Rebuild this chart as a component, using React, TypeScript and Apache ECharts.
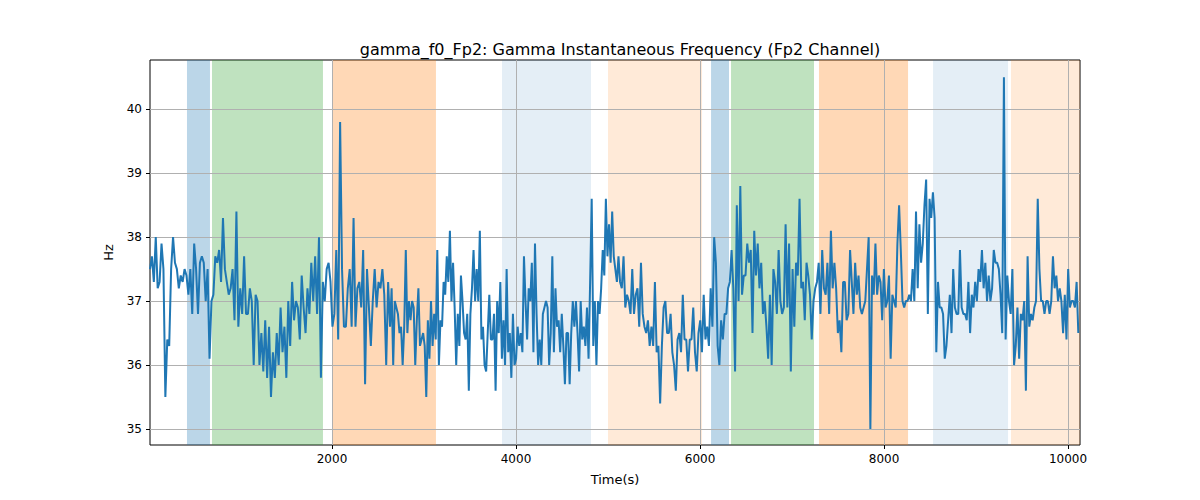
import React, { useEffect, useRef } from "react";
import * as echarts from "echarts";

// segment boundaries (time) and the values read within each segment
const segBounds = [22, 2631, 5131, 7631, 10130];
const seg1: number[] = [37.5,37.7,37.3,38.0,37.2,37.3,37.9,37.5,35.5,36.4,36.3,37.5,38.0,37.6,37.5,37.2,37.4,37.3,37.5,37.4,37.1,37.5,36.8,37.9,37.5,36.8,37.6,37.7,37.6,37.0,37.5,36.1,37.0,37.1,37.7,37.6,37.8,37.3,38.3,37.5,37.3,37.1,37.2,37.5,36.7,38.4,36.6,37.2,36.8,37.7,36.8,36.8,37.2,37.0,36.0,37.1,37.0,36.0,36.5,35.9,36.7,35.8,36.6,35.5,36.2,35.8,36.5,36.0,36.9,36.2,36.6,35.8,37.0,36.3,37.3,36.7,37.0,36.9,36.4,37.4,36.9,36.5,37.2,36.8,37.6,37.0,37.7,36.8,38.0,35.8,37.3,37.0,37.5,37.6,37.3,36.6,36.8,37.8,36.4,39.8,37.5,36.6,36.6,37.2,37.5,36.6,38.3,36.6,37.2,37.3,36.9,37.8,35.7,37.5,36.9,36.3,37.0,37.5,36.9,37.3,37.2,37.5,37.1,36.0,37.3];
const seg2: number[] = [36.6,37.2,36.0,37.0,36.9,36.8,36.5,36.6,36.0,36.6,37.8,36.5,37.0,36.7,37.0,36.9,36.0,36.7,37.2,36.3,36.4,36.5,36.3,35.5,36.7,36.1,37.0,36.3,36.8,36.4,37.8,36.0,36.7,36.6,37.3,37.1,37.7,37.3,38.1,37.0,37.6,36.9,36.0,36.8,36.3,37.4,37.0,36.5,36.4,36.8,35.6,36.8,37.2,37.8,37.0,37.5,37.0,38.1,36.4,36.6,36.0,35.9,36.5,37.1,36.4,36.4,36.8,35.6,37.0,36.5,37.3,36.1,36.7,36.0,37.5,36.2,36.5,35.8,36.8,36.0,36.1,36.6,36.3,36.5,36.2,37.7,37.0,36.4,37.2,37.0,37.6,36.2,37.9,36.8,36.0,36.4,36.0,36.8,36.9,37.0,36.9,36.0,36.5,37.7,36.2,37.2,36.6,36.7,36.2,36.8,36.3,35.7,36.5,36.5,35.7,36.5,37.0,36.6,37.0,36.5,35.9,37.0,36.4,36.6,36.3,36.9,36.1,37.3,38.6,36.3,37.0,36.0,37.0,36.8,37.2,37.8,37.4,38.6,37.7,38.2,37.6,38.4,37.7,37.5,37.3,37.7];
const seg3: number[] = [37.3,37.2,37.7,36.9,37.1,37.0,36.8,37.5,36.8,37.1,37.2,36.6,37.6,36.8,36.6,36.5,36.7,36.3,36.6,36.3,37.3,36.2,36.3,35.4,36.3,36.9,37.0,36.5,36.5,36.8,36.2,36.0,35.6,36.4,36.5,36.2,37.1,36.4,36.4,35.9,36.4,36.4,36.9,36.2,35.9,36.5,36.7,36.2,37.1,36.4,36.6,36.3,37.2,36.6,38.0,37.6,36.3,36.0,36.7,36.4,36.8,36.8,37.2,37.3,37.8,37.2,35.9,38.5,37.0,38.8,37.1,37.4,37.4,37.9,37.6,37.8,36.5,38.1,37.4,37.9,37.2,37.6,36.8,37.0,36.6,36.1,37.1,36.0,37.5,37.3,36.8,37.8,37.0,36.8,36.9,38.2,36.9,37.9,35.9,37.5,36.6,37.6,37.4,38.6,37.2,37.3,36.7,37.6,37.4,37.1,36.4,37.0,37.2,37.3,37.6,36.8,37.8,37.2,37.1,37.6,36.8,38.1,37.2,37.6,37.2,36.5,36.7,36.2,37.3,37.3,36.7,36.8];
const seg4: number[] = [37.8,37.3,36.8,37.6,37.1,37.4,36.9,36.8,36.9,37.0,37.5,38.0,35.0,37.4,37.1,37.9,37.1,37.4,37.3,36.7,37.5,36.9,37.0,37.4,36.1,37.1,37.0,36.9,37.9,38.5,37.8,37.0,36.9,37.0,37.0,37.1,37.0,37.5,37.0,38.4,37.2,38.2,37.6,37.9,38.5,38.9,36.8,38.6,38.3,38.7,38.3,36.2,37.3,36.9,36.9,36.8,36.1,36.3,36.7,37.1,36.5,37.5,36.9,36.8,36.8,37.8,36.9,36.8,36.8,36.7,37.3,36.5,37.1,36.9,37.3,37.0,37.5,37.3,37.8,37.2,37.6,37.0,37.4,37.0,37.2,37.8,37.6,37.6,37.5,37.1,36.5,40.5,36.4,37.4,37.0,36.8,37.5,36.0,36.3,36.9,36.1,36.8,36.7,37.0,35.6,37.7,36.6,36.8,36.7,36.9,37.0,38.6,37.5,37.0,37.0,36.8,37.0,37.0,36.8,37.0,37.7,37.2,37.4,37.0,37.2,37.0,36.5,37.1,36.4,37.5,36.9,37.0,37.0,36.9,37.3,36.5];
const segments = [seg1, seg2, seg3, seg4];
const xTicks = [2000, 4000, 6000, 8000, 10000];
const yTicks = [35, 36, 37, 38, 39, 40];
const bands: [number, number, string][] = [
  [424, 674, "rgba(31,119,180,0.3)"],
  [696, 1902, "rgba(44,160,44,0.3)"],
  [2011, 3130, "rgba(255,127,14,0.3)"],
  [3848, 4815, "rgba(31,119,180,0.12)"],
  [5000, 6022, "rgba(255,127,14,0.16)"],
  [6120, 6315, "rgba(31,119,180,0.3)"],
  [6337, 7239, "rgba(44,160,44,0.3)"],
  [7293, 8261, "rgba(255,127,14,0.3)"],
  [8533, 9348, "rgba(31,119,180,0.12)"],
  [9380, 10130, "rgba(255,127,14,0.16)"],
];

export default function App() {
  const ref = useRef<HTMLDivElement>(null);
  useEffect(() => {
    const chart = echarts.init(ref.current!, undefined, { renderer: "svg" });
    const data: number[][] = [];
    segments.forEach((seg, s) => {
      const a = segBounds[s], b = segBounds[s + 1];
      const step = (b - a) / seg.length;
      seg.forEach((v, i) => data.push([a + i * step, v]));
    });
    const font = "DejaVu Sans";
    chart.setOption({
      animation: false,
      textStyle: { fontFamily: font },
      title: {
        text: "gamma_f0_Fp2: Gamma Instantaneous Frequency (Fp2 Channel)",
        left: 615, top: 36, textAlign: "center",
        textStyle: { fontFamily: font, fontSize: 16, fontWeight: "normal", color: "#000" },
      },
      grid: { left: 150, right: 120, top: 60, bottom: 55, show: true, borderColor: "#000", borderWidth: 1, backgroundColor: "transparent" },
      xAxis: {
        type: "value", min: segBounds[0], max: segBounds[4],
        name: "Time(s)", nameLocation: "middle", nameGap: 28,
        nameTextStyle: { fontFamily: font, fontSize: 13, color: "#000" },
        axisLine: { show: false },
        axisTick: { show: true, customValues: xTicks, length: 4, lineStyle: { color: "#000" } },
        axisLabel: { customValues: xTicks, color: "#000", fontSize: 12, fontFamily: font, formatter: (v: number) => String(v) },
        splitLine: { show: false },
      },
      yAxis: {
        type: "value", min: 34.75, max: 40.77,
        name: "Hz", nameLocation: "middle", nameGap: 35,
        nameTextStyle: { fontFamily: font, fontSize: 13, color: "#000" },
        axisLine: { show: false },
        axisTick: { show: true, customValues: yTicks, length: 4, lineStyle: { color: "#000" } },
        axisLabel: { customValues: yTicks, color: "#000", fontSize: 12, fontFamily: font },
        splitLine: { show: false },
      },
      series: [
        {
          type: "line", data: [], silent: true,
          markArea: {
            silent: true,
            data: bands.map(([a, b, c]) => [{ xAxis: a, itemStyle: { color: c } }, { xAxis: b }]),
          },
          markLine: {
            silent: true, symbol: "none", label: { show: false },
            lineStyle: { color: "#b0b0b0", width: 1, type: "solid" },
            data: [...xTicks.map((x) => ({ xAxis: x })), ...yTicks.map((y) => ({ yAxis: y }))],
          },
        },
        {
          type: "line", data, showSymbol: false, symbol: "none",
          lineStyle: { color: "#1f77b4", width: 2 }, z: 5,
        },
      ],
    });
    return () => chart.dispose();
  }, []);
  return <div ref={ref} style={{ width: 1200, height: 500, position: "absolute", left: 0, top: 0 }} />;
}
